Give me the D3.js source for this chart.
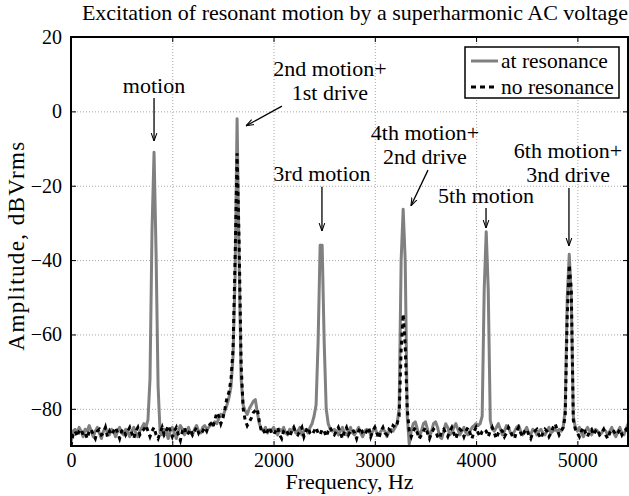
<!DOCTYPE html>
<html><head><meta charset="utf-8">
<script src="https://cdn.jsdelivr.net/npm/d3@7"></script>
<style>
html,body{margin:0;padding:0;background:#fff;}
svg{display:block;font-family:"Liberation Serif","Times New Roman",serif;}
</style></head>
<body><svg id="c" width="629" height="496"></svg>
<script>
// sample grid (Hz)
const freqStart = 0, freqStep = 20;
// at resonance (dBVrms)
const atResonance = [
-89,-86,-85.5,-86.5,-85,-86,-87.5,-85.5,-86,-84.5,
-86,-87.5,-86,-85,-86.5,-88,-86,-85,-86.5,-87,
-85.5,-86,-87.5,-86,-85,-86.5,-87,-85.5,-86,-87.5,
-86,-85,-86.5,-87.5,-86,-85,-84,-85,-83,-72,
-32,-11,-38,-74,-86.5,-87,-85.5,-86,-88,-86,
-85,-86.5,-88,-86,-84.5,-85.5,-87,-86,-85,-86.5,
-87,-85.5,-84.5,-86,-86.5,-85,-84.5,-85.5,-85,-84,
-84.5,-83.5,-84,-82.5,-81.5,-82,-80.5,-79,-77,-74,
-66,-45,-2,-40,-72,-79,-80.5,-81.5,-80,-79,
-78,-77.5,-81,-84,-85.5,-86,-85,-86.5,-85.5,-86,
-85,-86,-87,-85.5,-86,-85,-86.5,-87,-85.5,-86,
-85,-86.5,-86,-85,-87,-86,-85.5,-86.5,-85,-84,
-82,-79,-62,-36,-36,-62,-80,-84,-85.5,-86,
-85.5,-86,-87,-86,-85,-86.5,-87,-86,-85,-86.5,
-87,-86,-85,-86.5,-87.5,-86,-85.5,-86,-87,-86,
-85,-86.5,-87,-86,-85.5,-86,-87.5,-86,-85.5,-86,
-85,-84,-80,-40,-26.3,-40,-82,-89.5,-86,-84,
-83.5,-85.5,-87.5,-86,-84,-83.5,-85.5,-87.5,-86,-84,
-83.5,-85,-87.5,-88,-86,-84,-85,-87,-86.5,-85,
-84,-85.5,-87,-86,-85,-86.5,-87,-86,-85,-84.5,
-84,-84.5,-84,-82,-48,-32.4,-48,-83,-85.5,-86,
-85,-84,-85.5,-87,-86,-84.5,-85,-86.5,-87,-86,
-85,-84.5,-86,-87,-86,-85,-86.5,-87,-85.5,-86,
-87,-86,-85.5,-86.5,-87,-86,-85,-86.5,-86,-85.5,
-86,-85.5,-86,-85,-80,-50,-38.4,-50,-82,-85,
-86,-85,-86.5,-87.5,-86,-85,-86,-87,-86,-85.5,
-86,-87,-86.5,-85.5,-86,-87,-86,-85,-86.5,-87.5,
-86,-85,-86.5,-87,-85.5,-84
];
// no resonance (dBVrms)
const noResonance = [
-90,-87,-86,-87.5,-86,-85.5,-87,-86.5,-88,-86,
-85.5,-87,-88,-86,-85.5,-87,-86.5,-85,-87.5,-86,
-87,-86,-85,-86.5,-88,-86,-85.5,-87,-86,-85,
-86.5,-88,-86,-85,-87,-86,-85.5,-84.5,-86,-87.5,
-86,-85,-87,-88,-86.5,-85,-87,-86,-84.5,-86,
-87.5,-86,-85,-87,-88.5,-86,-85,-87,-86.5,-85.5,
-87,-86,-85,-86.5,-85.5,-86,-85,-86,-84.5,-84,
-85,-83,-81,-82,-84,-82.5,-80,-77,-75.5,-72,
-64,-40,-11.3,-35,-68,-80,-83,-84.5,-83.5,-82.5,
-81,-80.5,-80,-83.5,-86,-85.5,-87,-86,-85,-86.5,
-87,-86,-85,-87,-88,-86,-85.5,-86.5,-87.5,-86,
-85,-86.5,-87,-86,-85,-87.5,-86,-85,-86.5,-87,
-86,-85,-86.5,-87,-85.5,-86,-87.5,-86,-85,-86.5,
-87,-86,-85,-86.5,-88,-86,-85,-87,-86,-85.5,
-86.5,-88,-86,-85,-86.5,-87,-86,-85,-87.5,-86,
-85,-86.5,-88,-86,-85,-86.5,-87,-85.5,-86,-84.5,
-85,-84,-82,-64,-54.5,-63,-80,-86,-87.5,-86,
-85,-86.5,-88,-87,-86,-85,-86.5,-88,-86.5,-85.5,
-86,-87.5,-88,-86,-85.5,-86.5,-87.5,-86,-85,-86.5,
-88,-86.5,-85.5,-86,-87.5,-86,-85,-86.5,-88,-86,
-85,-86.5,-87.5,-86,-85.5,-86,-87.5,-86,-85,-86.5,
-88,-86.5,-85.5,-86,-87.5,-86.5,-85,-86,-87.5,-88,
-86,-85,-86.5,-87.5,-86,-85.5,-87,-88,-86.5,-86,
-85.5,-87,-88,-86.5,-85.5,-86,-87.5,-86.5,-85,-84,
-85.5,-87,-86,-85,-82,-55,-41.3,-48,-83,-85.5,
-86.5,-87.5,-86,-85,-86.5,-87.5,-86,-85.5,-87,-86,
-85.5,-87,-86.5,-85.5,-87,-88,-86.5,-85.5,-86,-87,
-86.5,-85.5,-87,-86,-85.5,-86.5
];
const seriesNames = ["at resonance", "no resonance"];
const xTicks = [0, 1000, 2000, 3000, 4000, 5000];
const yTicks = [-80, -60, -40, -20, 0, 20];
const xDomain = [0, 5500], yDomain = [-90, 20];
const titleText = "Excitation of resonant motion by a superharmonic AC voltage";
const xLabel = "Frequency, Hz", yLabel = "Amplitude, dBVrms";
// annotation texts
const noteLines = [
  ["motion"],
  ["2nd motion+","1st drive"],
  ["3rd motion"],
  ["4th motion+","2nd drive"],
  ["5th motion"],
  ["6th motion+","3nd drive"]
];
// annotation placement in data units: text centre f / last-line baseline v, arrow tail and head
const notePos = [
  {tx:820,  ty:4.9,   a0:[820,3.6],    a1:[820,-8.0]},
  {tx:2557, ty:3.1,   a0:[2083,1.4],   a1:[1728,-3.9]},
  {tx:2478, ty:-18.7, a0:[2478,-20.3], a1:[2478,-32.2]},
  {tx:3495, ty:-14.2, a0:[3525,-15.8], a1:[3357,-25.4]},
  {tx:4098, ty:-24.6, a0:[4098,-26.0], a1:[4098,-31.4]},
  {tx:4908, ty:-19.0, a0:[4917,-20.6], a1:[4917,-36.2]}
];

const svg = d3.select("#c");
const m = {l:71, r:628, t:37, b:446};
const x = d3.scaleLinear().domain(xDomain).range([m.l, m.r]);
const y = d3.scaleLinear().domain(yDomain).range([m.b, m.t]);
const freqs = atResonance.map((_, i) => freqStart + i*freqStep);

// grid
const grid = svg.append("g").attr("stroke","#a8a8a8").attr("stroke-width",1).attr("stroke-dasharray","1,2");
xTicks.forEach(t => grid.append("line").attr("x1",x(t)+0.5).attr("x2",x(t)+0.5).attr("y1",m.t).attr("y2",m.b));
yTicks.forEach(t => grid.append("line").attr("x1",m.l).attr("x2",m.r).attr("y1",y(t)+0.5).attr("y2",y(t)+0.5));

// clip
svg.append("clipPath").attr("id","clip").append("rect").attr("x",m.l).attr("y",m.t).attr("width",m.r-m.l).attr("height",m.b-m.t);

const line = d3.line().x((d,i)=>x(freqs[i])).y(d=>y(d));
const plot = svg.append("g").attr("clip-path","url(#clip)");
plot.append("path").datum(atResonance).attr("d",line).attr("fill","none")
  .attr("stroke","#808080").attr("stroke-width",3).attr("stroke-linejoin","round");
plot.append("path").datum(noResonance).attr("d",line).attr("fill","none")
  .attr("stroke","#000").attr("stroke-width",3).attr("stroke-dasharray","4,4");

// axes
const xAxis = d3.axisBottom(x).tickValues(xTicks).tickSize(-5).tickPadding(7).tickFormat(d3.format("d"));
const yAxis = d3.axisLeft(y).tickValues(yTicks).tickSize(-5).tickPadding(9).tickFormat(d => d < 0 ? "\u2212" + Math.abs(d) : d);
const gx = svg.append("g").attr("transform",`translate(0,${m.b})`).call(xAxis);
const gy = svg.append("g").attr("transform",`translate(${m.l},0)`).call(yAxis);
const gxt = svg.append("g").attr("transform",`translate(0,${m.t})`).call(d3.axisTop(x).tickValues(xTicks).tickSize(-5).tickFormat(""));
const gyr = svg.append("g").attr("transform",`translate(${m.r},0)`).call(d3.axisRight(y).tickValues(yTicks).tickSize(-5).tickFormat(""));
[gx,gy,gxt,gyr].forEach(g => { g.select(".domain").remove(); g.selectAll("line").attr("stroke","#000"); });
gx.selectAll("text").attr("font-size",20).attr("font-family","Liberation Serif").attr("fill","#000");
gy.selectAll("text").attr("font-size",20).attr("font-family","Liberation Serif").attr("fill","#000");
svg.append("rect").attr("x",m.l).attr("y",m.t).attr("width",m.r-m.l).attr("height",m.b-m.t)
  .attr("fill","none").attr("stroke","#000").attr("stroke-width",2);

// labels
svg.append("text").attr("x",355).attr("y",20).attr("text-anchor","middle").attr("font-size",22).text(titleText);
svg.append("text").attr("x",(m.l+m.r)/2).attr("y",489).attr("text-anchor","middle").attr("font-size",22).text(xLabel);
svg.append("text").attr("transform",`translate(24,${(m.t+m.b)/2 + 4}) rotate(-90)`).attr("text-anchor","middle")
  .attr("font-size",23).attr("letter-spacing","1.4px").text(yLabel);

// annotations
svg.append("defs").append("marker").attr("id","ah").attr("viewBox","0 0 10 10").attr("refX",10).attr("refY",5)
  .attr("markerWidth",8).attr("markerHeight",8).attr("markerUnits","userSpaceOnUse").attr("orient","auto")
  .append("path").attr("d","M0,1.5 L10,5 L0,8.5").attr("fill","none").attr("stroke","#000").attr("stroke-width",1.3);
const ann = svg.append("g").attr("font-size",22).attr("text-anchor","middle");
noteLines.forEach((lines,k) => {
  const p = notePos[k];
  lines.forEach((s,j) => ann.append("text").attr("x",x(p.tx)).attr("y",y(p.ty) - (lines.length-1-j)*24).text(s));
  ann.append("line").attr("x1",x(p.a0[0])).attr("y1",y(p.a0[1])).attr("x2",x(p.a1[0])).attr("y2",y(p.a1[1]))
    .attr("stroke","#000").attr("stroke-width",1.3).attr("marker-end","url(#ah)");
});

// legend
const lg = svg.append("g");
lg.append("rect").attr("x",465).attr("y",47).attr("width",154).attr("height",51).attr("fill","#fff").attr("stroke","#000").attr("stroke-width",1.5);
const legStyles = [{c:"#808080", d:null},{c:"#000", d:"5,4"}];
seriesNames.forEach((s,i) => {
  const yy = 61 + i*26;
  const l = lg.append("line").attr("x1",471).attr("x2",498).attr("y1",yy).attr("y2",yy).attr("stroke",legStyles[i].c).attr("stroke-width",3);
  if (legStyles[i].d) l.attr("stroke-dasharray",legStyles[i].d);
  lg.append("text").attr("x",501).attr("y",yy+7).attr("font-size",21.5).text(s);
});
</script></body></html>
